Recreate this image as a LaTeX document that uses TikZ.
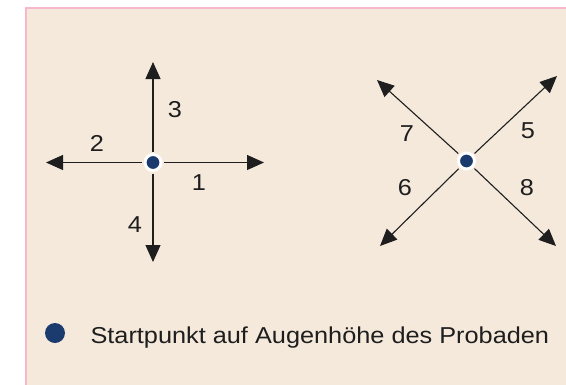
\documentclass[tikz,border=0pt]{standalone}
\usepackage{fontspec}
\setmainfont[FakeStretch=1.1]{Liberation Sans}
\usetikzlibrary{arrows.meta}
\definecolor{papier}{RGB}{245, 233, 220}
\definecolor{rahmen}{RGB}{246, 184, 202}
\definecolor{punktblau}{RGB}{27, 58, 110}
\definecolor{tinte}{RGB}{30, 30, 30}
\tikzset{
    pfeil/.style={-{Triangle[length=17pt,width=15pt]}, line width=1.1pt, color=tinte},
    startpunkt/.style={
        circle, fill=punktblau, draw=white, line width=3pt,
        minimum size=16pt, inner sep=0pt, outer sep=3pt
    },
    ziffer/.style={font=\fontsize{23}{27}\selectfont, text=tinte},
    legende/.style={font=\fontsize{23}{28}\selectfont, text=tinte, anchor=base west}
}
\begin{document}
\begin{tikzpicture}[x=1pt, y=-1pt]
    \useasboundingbox (0,0) rectangle (566,384);
    \clip (0,0) rectangle (566,384);

    % Hintergrund und Rahmen
    \fill[papier] (26,8) rectangle (570,390);
    \draw[rahmen, line width=2.5pt] (26,390) -- (26,8) -- (570,8);

    % Kreuz links
    \node[startpunkt] (links) at (153,162.5) {};
    \coordinate (l1) at (264,162.5);
    \coordinate (l2) at (46,162.5);
    \coordinate (l3) at (153,62);
    \coordinate (l4) at (153,262);
    \draw[pfeil] (links) -- (l1);
    \draw[pfeil] (links) -- (l2);
    \draw[pfeil] (links) -- (l3);
    \draw[pfeil] (links) -- (l4);
    \node[ziffer] (z1) at (199,183) {1};
    \node[ziffer] (z2) at (97,143) {2};
    \node[ziffer] (z3) at (175,110) {3};
    \node[ziffer] (z4) at (135,225) {4};

    % Kreuz rechts
    \node[startpunkt] (rechts) at (466.5,161) {};
    \coordinate (r5) at (557,76);
    \coordinate (r6) at (380,246);
    \coordinate (r7) at (377,80);
    \coordinate (r8) at (556,246);
    \draw[pfeil] (rechts) -- (r5);
    \draw[pfeil] (rechts) -- (r6);
    \draw[pfeil] (rechts) -- (r7);
    \draw[pfeil] (rechts) -- (r8);
    \node[ziffer] (z5) at (528,131) {5};
    \node[ziffer] (z6) at (405,188) {6};
    \node[ziffer] (z7) at (407,134) {7};
    \node[ziffer] (z8) at (527,188) {8};

    % Legende
    \node[startpunkt, draw=none, minimum size=20pt] (legpunkt) at (55,333) {};
    \node[legende] (legtext) at (87,343) {Startpunkt auf Augenhöhe des Probaden};
\end{tikzpicture}
\end{document}
